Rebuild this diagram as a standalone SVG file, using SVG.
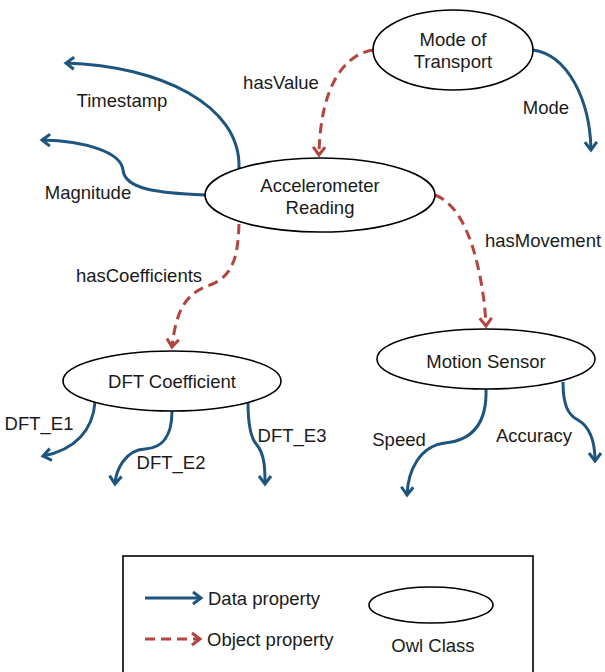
<svg xmlns="http://www.w3.org/2000/svg" width="605" height="672" viewBox="0 0 605 672">
<style>
text{font-family:"Liberation Sans",Arial,sans-serif;font-size:18.5px;fill:#1a1a1a}
.m{text-anchor:middle}
.cls{fill:#fff;stroke:#000;stroke-width:1.6}
.data{fill:none;stroke:#1d557f;stroke-width:3;marker-end:url(#ab)}
.obj{fill:none;stroke:#b3443f;stroke-width:3;stroke-dasharray:10 6;marker-end:url(#ar)}
</style>
<defs>
<marker id="ab" markerUnits="userSpaceOnUse" markerWidth="14" markerHeight="16" refX="10" refY="7" orient="auto" viewBox="0 0 14 14">
<path d="M2,1 L10,7 L2,13" fill="none" stroke="#1d557f" stroke-width="3"/>
</marker>
<marker id="ar" markerUnits="userSpaceOnUse" markerWidth="14" markerHeight="16" refX="10" refY="7" orient="auto" viewBox="0 0 14 14">
<path d="M2,1 L10,7 L2,13" fill="none" stroke="#b3443f" stroke-width="3"/>
</marker>
</defs>
<rect width="605" height="672" fill="#fff"/>
<g id="connectors">
<path class="data" d="M239,168 C241,105 160,66 66,63"/>
<path class="data" d="M205,195 C160,193 125,190 123,170 C121,152 85,141 42,140"/>
<path class="obj" d="M373,50 C342,55 320,90 319,155"/>
<path class="data" d="M533,50 C568,55 590,100 591,150"/>
<path class="obj" d="M435,195 C455,203 465,225 472,245 C480,270 485,300 486,326"/>
<path class="obj" d="M239,224 C238,252 235,276 210,285 C186,293 176,310 172,347"/>
<path class="data" d="M95,402 C93,430 75,450 43,456"/>
<path class="data" d="M172,411 C172,440 160,448 145,449 C125,450 116,470 115,484"/>
<path class="data" d="M248,402 C248,430 252,440 257,445 C265,455 265,470 265,484"/>
<path class="data" d="M486,389 C487,420 475,440 445,443 C420,446 408,470 407,495"/>
<path class="data" d="M563,382 C563,405 568,415 578,420 C592,428 595,445 595,461"/>
</g>
<g id="labels">
<text class="m" x="122" y="107">Timestamp</text>
<text class="m" x="88" y="199">Magnitude</text>
<text class="m" x="281" y="89">hasValue</text>
<text class="m" x="546" y="114">Mode</text>
<text class="m" x="543" y="247">hasMovement</text>
<text class="m" x="139" y="282">hasCoefficients</text>
<text class="m" x="39" y="430">DFT_E1</text>
<text class="m" x="171" y="469">DFT_E2</text>
<text class="m" x="292" y="442">DFT_E3</text>
<text class="m" x="399" y="446">Speed</text>
<text class="m" x="534" y="442">Accuracy</text>
</g>
<g id="mode-of-transport">
<ellipse class="cls" cx="453" cy="50" rx="80" ry="40"/>
<text class="m" x="453" y="46">Mode of</text>
<text class="m" x="453" y="68">Transport</text>
</g>
<g id="accelerometer-reading">
<ellipse class="cls" cx="320" cy="195" rx="115" ry="37"/>
<text class="m" x="320" y="192">Accelerometer</text>
<text class="m" x="320" y="214">Reading</text>
</g>
<g id="dft-coefficient">
<ellipse class="cls" cx="172" cy="381" rx="109" ry="30"/>
<text class="m" x="172" y="388">DFT Coefficient</text>
</g>
<g id="motion-sensor">
<ellipse class="cls" cx="486" cy="359" rx="109" ry="30"/>
<text class="m" x="486" y="368">Motion Sensor</text>
</g>
<g id="legend">
<rect x="123" y="556" width="410" height="130" fill="none" stroke="#000" stroke-width="1.6"/>
<path class="data" d="M145,598 L201,598"/>
<text x="208" y="605">Data property</text>
<path class="obj" d="M145,639 L200,639"/>
<text x="207" y="646">Object property</text>
<ellipse class="cls" cx="431" cy="605" rx="62" ry="18"/>
<text class="m" x="433" y="652">Owl Class</text>
</g>
</svg>
